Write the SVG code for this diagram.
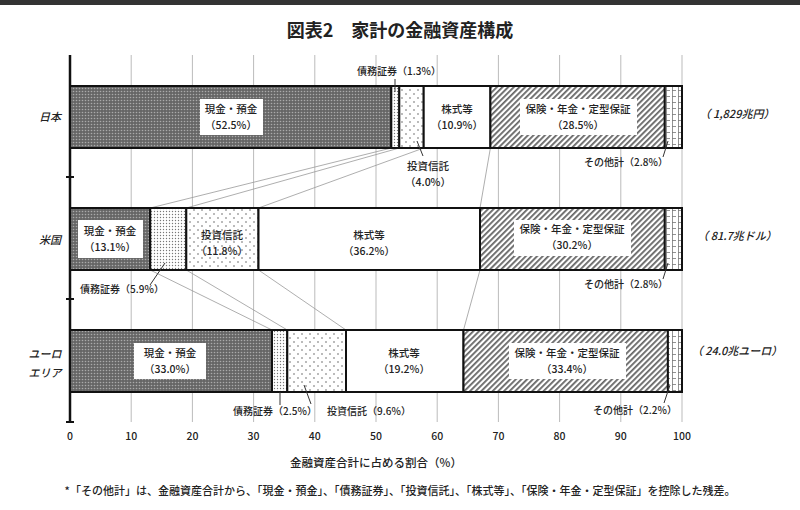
<svg xmlns="http://www.w3.org/2000/svg" width="800" height="510" viewBox="0 0 800 510">
<style>
text{font-family:"Noto Sans CJK JP","Liberation Sans",sans-serif;fill:#222;font-weight:500}
.l{font-size:10.5px;text-anchor:middle}
.s{font-size:10px}
.bar{stroke:#111;stroke-width:2}
.grid{stroke:#bbb;stroke-width:1}
.conn{stroke:#999;stroke-width:0.8;fill:none}
.lead{stroke:#333;stroke-width:1;fill:none}
.it{font-style:italic;font-size:11px}
</style>
<defs>
<pattern id="pCash" width="3" height="3" patternUnits="userSpaceOnUse"><rect width="3" height="3" fill="#666"/><circle cx="1.5" cy="1.5" r="0.8" fill="#aaa"/></pattern>
<pattern id="pBond" width="3" height="3" patternUnits="userSpaceOnUse"><rect width="3" height="3" fill="#fff"/><circle cx="1.5" cy="1.5" r="0.7" fill="#777"/></pattern>
<pattern id="pFund" width="8" height="8" patternUnits="userSpaceOnUse"><rect width="8" height="8" fill="#fff"/><circle cx="2" cy="2" r="0.7" fill="#444"/><circle cx="6" cy="6" r="0.7" fill="#444"/></pattern>
<pattern id="pIns" width="4" height="4" patternUnits="userSpaceOnUse" patternTransform="rotate(45)"><rect width="4" height="4" fill="#fff"/><rect width="1.8" height="4" fill="#666"/></pattern>
<pattern id="pOth" width="6" height="6" patternUnits="userSpaceOnUse"><rect width="6" height="6" fill="#fff"/><path d="M0 0.5H4M0.5 0V6" stroke="#777" stroke-width="0.8"/></pattern>
</defs>
<rect width="800" height="5" fill="#333"/>
<text x="400" y="37" text-anchor="middle" font-size="18" font-weight="bold" style="font-weight:bold">図表2　家計の金融資産構成</text>
<g id="grid">
<line class="grid" x1="131.2" y1="55" x2="131.2" y2="422"/><line class="grid" x1="192.4" y1="55" x2="192.4" y2="422"/><line class="grid" x1="253.6" y1="55" x2="253.6" y2="422"/><line class="grid" x1="314.8" y1="55" x2="314.8" y2="422"/><line class="grid" x1="376" y1="55" x2="376" y2="422"/><line class="grid" x1="437.2" y1="55" x2="437.2" y2="422"/><line class="grid" x1="498.4" y1="55" x2="498.4" y2="422"/><line class="grid" x1="559.6" y1="55" x2="559.6" y2="422"/><line class="grid" x1="620.8" y1="55" x2="620.8" y2="422"/><line class="grid" x1="682" y1="55" x2="682" y2="422"/>
</g>
<g id="connectors">
<line class="conn" x1="391.3" y1="148" x2="150.2" y2="208"/><line class="conn" x1="399.3" y1="148" x2="186.3" y2="208"/><line class="conn" x1="423.7" y1="148" x2="258.5" y2="208"/><line class="conn" x1="490.4" y1="148" x2="480" y2="208"/>
<line class="conn" x1="150.2" y1="270" x2="272" y2="330"/><line class="conn" x1="186.3" y1="270" x2="287.3" y2="330"/><line class="conn" x1="258.5" y1="270" x2="346" y2="330"/><line class="conn" x1="480" y1="270" x2="463.5" y2="330"/>
</g>
<g id="axis">
<line x1="70" y1="55" x2="70" y2="422" stroke="#111" stroke-width="2.5"/>
<path d="M66 177H74M66 299H74M66 422H74" stroke="#111" stroke-width="2"/>
<g text-anchor="middle" font-size="10.5">
<text x="70" y="440">0</text><text x="131.2" y="440">10</text><text x="192.4" y="440">20</text><text x="253.6" y="440">30</text><text x="314.8" y="440">40</text><text x="376" y="440">50</text><text x="437.2" y="440">60</text><text x="498.4" y="440">70</text><text x="559.6" y="440">80</text><text x="620.8" y="440">90</text><text x="682" y="440">100</text>
</g>
<text x="376" y="467" text-anchor="middle" font-size="11.5">金融資産合計に占める割合（%）</text>
</g>
<g id="japan">
<text x="50" y="121" class="it" text-anchor="middle">日本</text>
<rect class="bar" x="70" y="86" width="321.3" height="62" fill="url(#pCash)"/>
<rect class="bar" x="391.3" y="86" width="8" height="62" fill="url(#pBond)"/>
<rect class="bar" x="399.3" y="86" width="24.4" height="62" fill="url(#pFund)"/>
<rect class="bar" x="423.7" y="86" width="66.7" height="62" fill="#fff"/>
<rect class="bar" x="490.4" y="86" width="174.4" height="62" fill="url(#pIns)"/>
<rect class="bar" x="664.8" y="86" width="17.2" height="62" fill="url(#pOth)"/>
<rect x="200" y="99" width="63" height="36" fill="#fff"/>
<text class="l" x="231" y="113">現金・預金</text><text class="l" x="231" y="129">（52.5%）</text>
<text class="l" x="457" y="113">株式等</text><text class="l" x="457" y="129">（10.9%）</text>
<rect x="520" y="99" width="117" height="36" fill="#fff"/>
<text class="l" x="578" y="113">保険・年金・定型保証</text><text class="l" x="578" y="129">（28.5%）</text>
<text class="s" x="399" y="75" text-anchor="middle">債務証券（1.3%）</text><line class="lead" x1="395" y1="79" x2="395" y2="92"/>
<text class="l" x="428" y="170">投資信託</text><text class="l" x="428" y="186">（4.0%）</text><line class="lead" x1="417" y1="141" x2="423" y2="156"/>
<text class="s" x="626" y="166" text-anchor="middle">その他計（2.8%）</text><line class="lead" x1="668" y1="141" x2="663" y2="157"/>
<text class="it" x="737" y="118" text-anchor="middle">（ 1,829兆円）</text>
</g>
<g id="usa">
<text x="50" y="244" class="it" text-anchor="middle">米国</text>
<rect class="bar" x="70" y="208" width="80.2" height="62" fill="url(#pCash)"/>
<rect class="bar" x="150.2" y="208" width="36.1" height="62" fill="url(#pBond)"/>
<rect class="bar" x="186.3" y="208" width="72.2" height="62" fill="url(#pFund)"/>
<rect class="bar" x="258.5" y="208" width="221.5" height="62" fill="#fff"/>
<rect class="bar" x="480" y="208" width="184.8" height="62" fill="url(#pIns)"/>
<rect class="bar" x="664.8" y="208" width="17.2" height="62" fill="url(#pOth)"/>
<rect x="78" y="220" width="65" height="38" fill="#fff"/>
<text class="l" x="110" y="235">現金・預金</text><text class="l" x="110" y="251">（13.1%）</text>
<text class="l" x="222" y="239">投資信託</text><text class="l" x="222" y="255">（11.8%）</text>
<text class="l" x="369" y="239">株式等</text><text class="l" x="369" y="255">（36.2%）</text>
<rect x="514" y="220" width="117" height="36" fill="#fff"/>
<text class="l" x="572" y="233">保険・年金・定型保証</text><text class="l" x="572" y="249">（30.2%）</text>
<text class="s" x="122" y="293" text-anchor="middle">債務証券（5.9%）</text><line class="lead" x1="150" y1="285" x2="165" y2="263"/>
<text class="s" x="626" y="288" text-anchor="middle">その他計（2.8%）</text><line class="lead" x1="668" y1="263" x2="663" y2="279"/>
<text class="it" x="737" y="240" text-anchor="middle">（ 81.7兆ドル）</text>
</g>
<g id="euro">
<text x="45" y="358" class="it" text-anchor="middle">ユーロ</text><text x="45" y="377" class="it" text-anchor="middle">エリア</text>
<rect class="bar" x="70" y="330" width="202" height="62" fill="url(#pCash)"/>
<rect class="bar" x="272" y="330" width="15.3" height="62" fill="url(#pBond)"/>
<rect class="bar" x="287.3" y="330" width="58.7" height="62" fill="url(#pFund)"/>
<rect class="bar" x="346" y="330" width="117.5" height="62" fill="#fff"/>
<rect class="bar" x="463.5" y="330" width="204.4" height="62" fill="url(#pIns)"/>
<rect class="bar" x="667.9" y="330" width="14.1" height="62" fill="url(#pOth)"/>
<rect x="134" y="343" width="72" height="36" fill="#fff"/>
<text class="l" x="170" y="357">現金・預金</text><text class="l" x="170" y="373">（33.0%）</text>
<text class="l" x="404" y="357">株式等</text><text class="l" x="404" y="373">（19.2%）</text>
<rect x="509" y="343" width="117" height="36" fill="#fff"/>
<text class="l" x="567" y="357">保険・年金・定型保証</text><text class="l" x="567" y="373">（33.4%）</text>
<line class="lead" x1="280" y1="392" x2="280" y2="405"/><text class="s" x="275" y="415" text-anchor="middle">債務証券（2.5%）</text>
<line class="lead" x1="304" y1="385" x2="311" y2="404"/><text class="s" x="369" y="415" text-anchor="middle">投資信託（9.6%）</text>
<line class="lead" x1="670" y1="385" x2="664" y2="403"/><text class="s" x="635" y="414" text-anchor="middle">その他計（2.2%）</text>
<text class="it" x="737" y="355" text-anchor="middle">（ 24.0兆ユーロ）</text>
</g>
<text x="400" y="495" text-anchor="middle" font-size="11">*「その他計」は、金融資産合計から、「現金・預金」、「債務証券」、「投資信託」、「株式等」、「保険・年金・定型保証」を控除した残差。</text>
</svg>
